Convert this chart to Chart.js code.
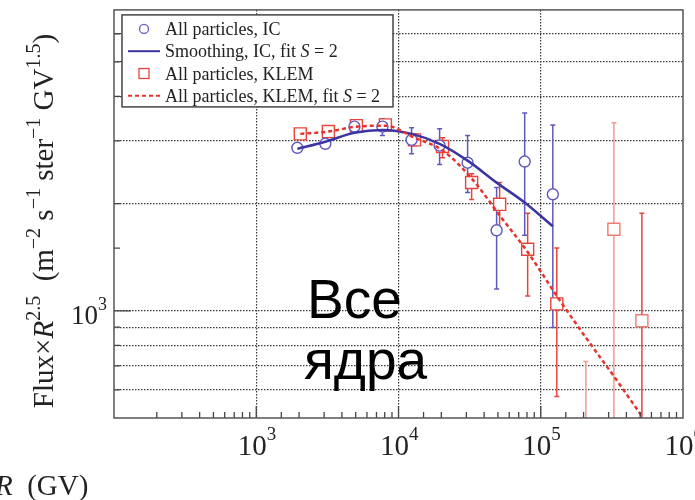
<!DOCTYPE html>
<html>
<head>
<meta charset="utf-8">
<script src="https://cdn.jsdelivr.net/npm/chart.js@4.4.1/dist/chart.umd.min.js"></script>
<style>
  html, body { margin: 0; padding: 0; background: #fff; }
</style>
</head>
<body>
<canvas id="c" width="695" height="500"></canvas>
<script>
// Rigidity R (GV) and Flux x R^2.5
const icRigidity = [1945, 3060, 4900, 7710, 12360, 19450, 30600, 48950, 77100, 121600];
const icFlux = [2870, 2945, 3290, 3290, 3020, 2910, 2606, 1683, 2625, 2124];
const icErrLow = [null, null, null, 3105, 2762, 2576, 2148, 1152, 1630, 897];
const icErrHigh = [null, null, null, 3460, 3265, 3245, 3105, 2219, 3594, 3327];
const icSmoothFlux = [2850, 2985, 3162, 3220, 3140, 2945, 2641, 2291, 2014, 1726];

const klemRigidity = [2040, 3213, 5060, 8090, 12970, 20400, 32660, 51400, 80900, 129700, 207500, 326600, 514000];
const klemFlux = [3140, 3187, 3311, 3327, 3020, 2893, 2292, 1991, 1489, 1046, 420, 1694, 938];
const klemErrLow = [null, null, null, null, 2910, 2690, 2055, 1706, 1101, 575, 250, 200, 200];
const klemErrHigh = [null, null, null, null, 3140, 3063, 2427, 2292, 1878, 1500, 721, 3375, 1878];
const klemFitFlux = [3140, 3187, 3290, 3311, 3063, 2820, 2355, 1854, 1462, 1101, 841, 655, 506];

// tick labels: base and exponent
const xMajorTicks = [1e3, 1e4, 1e5, 1e6];
const xMajorExp = ['3', '4', '5', '6'];
const yMajorTicks = [1000];
const yMajorExp = ['3'];
const xGridValues = [1e3, 1e4, 1e5];
const yGridValues = [600, 700, 800, 900, 1000, 2000, 3000, 4000, 5000, 6000];

const SERIF = '"Liberation Serif", "Times New Roman", "DejaVu Serif", serif';
const IC_COLOR = '#5f58bd';
const IC_LINE = '#3b35a3';
const KLEM_COLOR = '#e8453a';
const KLEM_FAINT = '#f39a92';
const GRID_COLOR = '#3a3a3a';

const pairs = (xs, ys) => xs.map((x, i) => ({ x: x, y: ys[i] }));

// draw a run of text pieces [text, font, dy] starting at x
function drawRich(ctx, parts, x, y) {
  let cx = x;
  for (const [t, f, dy] of parts) {
    ctx.font = f;
    ctx.fillText(t, cx, y + (dy || 0));
    cx += ctx.measureText(t).width;
  }
  return cx - x;
}

function measureRich(ctx, parts) {
  let w = 0;
  for (const [t, f] of parts) {
    ctx.font = f;
    w += ctx.measureText(t).width;
  }
  return w;
}

// Error bars, drawn under the markers
const errorBars = {
  id: 'errorBars',
  beforeDatasetsDraw(chart) {
    const { ctx, chartArea, scales } = chart;
    ctx.save();
    ctx.beginPath();
    ctx.rect(chartArea.left, chartArea.top, chartArea.right - chartArea.left, chartArea.bottom - chartArea.top);
    ctx.clip();
    chart.data.datasets.forEach(ds => {
      if (!ds.errLow) return;
      ds.data.forEach((p, i) => {
        const lo = ds.errLow[i], hi = ds.errHigh[i];
        if (lo == null || hi == null) return;
        const px = scales.x.getPixelForValue(p.x);
        const y1 = scales.y.getPixelForValue(lo);
        const y2 = scales.y.getPixelForValue(hi);
        ctx.strokeStyle = typeof ds.barColor === 'function' ? ds.barColor(i) : ds.barColor;
        ctx.lineWidth = 1.5;
        ctx.beginPath();
        ctx.moveTo(px, y1); ctx.lineTo(px, y2);
        ctx.moveTo(px - 2.5, y1); ctx.lineTo(px + 2.5, y1);
        ctx.moveTo(px - 2.5, y2); ctx.lineTo(px + 2.5, y2);
        ctx.stroke();
      });
    });
    ctx.restore();
  }
};

// Frame, inward tick marks, tick labels, legend, axis titles and the overlay caption
const decorations = {
  id: 'decorations',
  afterDraw(chart) {
    const { ctx, chartArea: a, scales } = chart;
    ctx.save();

    // inward ticks
    ctx.strokeStyle = '#444';
    ctx.lineWidth = 1.3;
    ctx.beginPath();
    scales.x.ticks.forEach(t => {
      const px = scales.x.getPixelForValue(t.value);
      if (px <= a.left + 1 || px >= a.right - 1) return;
      const len = xMajorTicks.includes(t.value) ? 12 : 6;
      ctx.moveTo(px, a.bottom); ctx.lineTo(px, a.bottom - len);
    });
    scales.y.ticks.forEach(t => {
      const py = scales.y.getPixelForValue(t.value);
      if (py <= a.top + 1 || py >= a.bottom - 1) return;
      const len = yMajorTicks.includes(t.value) ? 17 : 6;
      ctx.moveTo(a.left, py); ctx.lineTo(a.left + len, py);
    });
    ctx.stroke();

    // frame
    ctx.strokeStyle = '#555';
    ctx.lineWidth = 1.5;
    ctx.strokeRect(a.left, a.top, a.right - a.left, a.bottom - a.top);

    // tick labels as 10 with a raised exponent
    ctx.fillStyle = '#222';
    ctx.textBaseline = 'alphabetic';
    const tBase = `29px ${SERIF}`, tSup = `19px ${SERIF}`;
    xMajorTicks.forEach((v, i) => {
      const px = scales.x.getPixelForValue(v);
      ctx.font = tBase;
      const w10 = ctx.measureText('10').width;
      drawRich(ctx, [['10', tBase], [xMajorExp[i], tSup, -15]], px - w10 / 2 - 4, 455);
    });
    const yBase = `27px ${SERIF}`, ySup = `18px ${SERIF}`;
    yMajorTicks.forEach((v, i) => {
      const py = scales.y.getPixelForValue(v);
      const parts = [['10', yBase], [yMajorExp[i], ySup, -14]];
      const w = measureRich(ctx, parts);
      drawRich(ctx, parts, a.left - 7 - w, py + 13);
    });

    // legend
    const lx = a.left + 8, ly = a.top + 5, lw = 271, lh = 92;
    ctx.fillStyle = '#fff';
    ctx.fillRect(lx, ly, lw, lh);
    ctx.strokeStyle = '#444';
    ctx.lineWidth = 1.5;
    ctx.strokeRect(lx, ly, lw, lh);
    const font = `18px ${SERIF}`;
    const ifont = `italic 18px ${SERIF}`;
    chart.data.datasets.forEach((ds, i) => {
      const cy = ly + 14 + i * 22.3;
      const sx = lx + 22;
      ctx.save();
      if (ds.legendKind === 'circle') {
        ctx.strokeStyle = ds.pointBorderColor; ctx.lineWidth = 1.3;
        ctx.beginPath(); ctx.arc(sx, cy, 4.5, 0, Math.PI * 2); ctx.stroke();
      } else if (ds.legendKind === 'square') {
        ctx.strokeStyle = KLEM_COLOR; ctx.lineWidth = 1.3;
        ctx.strokeRect(sx - 5, cy - 5, 10, 10);
      } else {
        ctx.strokeStyle = ds.borderColor; ctx.lineWidth = 2;
        ctx.setLineDash(ds.borderDash || []);
        ctx.beginPath(); ctx.moveTo(lx + 6, cy); ctx.lineTo(lx + 38, cy); ctx.stroke();
      }
      ctx.restore();
      ctx.fillStyle = '#222';
      ctx.textBaseline = 'alphabetic';
      const k = ds.label.indexOf(' S = ');
      const parts = k < 0 ? [[ds.label, font]]
        : [[ds.label.slice(0, k + 1), font], ['S', ifont], [ds.label.slice(k + 2), font]];
      drawRich(ctx, parts, lx + 43, cy + 6);
    });

    // y title (rotated)
    const main = `29px ${SERIF}`, ital = `italic 29px ${SERIF}`, sup = `20px ${SERIF}`;
    const yParts = [
      ['Flux×', main], ['R', ital], ['2.5', sup, -13], ['  (m', main], ['−2', sup, -13],
      [' s', main], ['−1', sup, -13], [' ster', main], ['−1', sup, -13],
      [' GV', main], ['1.5', sup, -13], [')', main]
    ];
    const tw = measureRich(ctx, yParts);
    ctx.save();
    ctx.translate(53, 221 + tw / 2);
    ctx.rotate(-Math.PI / 2);
    ctx.fillStyle = '#222';
    drawRich(ctx, yParts, 0, 0);
    ctx.restore();

    // x title
    ctx.fillStyle = '#222';
    drawRich(ctx, [['R', ital], ['  (GV)', main]], -5, 495);

    // caption overlay
    ctx.fillStyle = '#000';
    ctx.font = '55px "Liberation Sans", Arial, sans-serif';
    ctx.fillText('Все', 307, 318);
    ctx.fillText('ядра', 304, 379);

    ctx.restore();
  }
};

new Chart(document.getElementById('c'), {
  type: 'line',
  data: {
    datasets: [
      {
        label: 'All particles, IC',
        legendKind: 'circle',
        data: pairs(icRigidity, icFlux),
        errLow: icErrLow, errHigh: icErrHigh, barColor: IC_COLOR,
        showLine: false,
        pointStyle: 'circle', pointRadius: 5.5, pointBorderWidth: 1.4,
        pointBorderColor: IC_COLOR, pointBackgroundColor: '#fff',
        order: 2
      },
      {
        label: 'Smoothing, IC, fit S = 2',
        legendKind: 'line',
        data: pairs(icRigidity, icSmoothFlux),
        borderColor: IC_LINE, borderWidth: 2.5,
        pointRadius: 0, cubicInterpolationMode: 'monotone',
        order: 1
      },
      {
        label: 'All particles, KLEM',
        legendKind: 'square',
        data: pairs(klemRigidity, klemFlux),
        errLow: klemErrLow, errHigh: klemErrHigh,
        barColor: i => (i === 10 || i === 11) ? KLEM_FAINT : KLEM_COLOR,
        showLine: false,
        pointStyle: 'rect', pointRadius: 8.5, pointBorderWidth: 1.4,
        pointBorderColor: ctx => (ctx.dataIndex === 11 || ctx.dataIndex === 12) ? '#ef7b72' : KLEM_COLOR,
        pointBackgroundColor: '#fff',
        order: 2
      },
      {
        label: 'All particles, KLEM, fit S = 2',
        legendKind: 'line',
        data: pairs(klemRigidity, klemFitFlux),
        borderColor: '#e6322a', borderWidth: 2.5, borderDash: [4, 3],
        pointRadius: 0, cubicInterpolationMode: 'monotone',
        order: 0
      }
    ]
  },
  options: {
    responsive: false,
    devicePixelRatio: 1,
    animation: false,
    layout: { padding: { top: 8, right: 12, left: 0, bottom: 0 } },
    plugins: { legend: { display: false }, tooltip: { enabled: false } },
    scales: {
      x: {
        type: 'logarithmic',
        min: 100,
        max: 1e6,
        afterFit: s => { s.height = 82; s.paddingLeft = 0; s.paddingRight = 0; },
        grid: {
          color: c => xGridValues.includes(c.tick && c.tick.value) ? GRID_COLOR : 'rgba(0,0,0,0)',
          lineWidth: 1.2,
          drawTicks: false
        },
        border: { display: false, dash: [1.5, 1.5] },
        ticks: { autoSkip: false, maxRotation: 0, callback: () => '' }
      },
      y: {
        type: 'logarithmic',
        min: 500,
        max: 7000,
        afterFit: s => { s.width = 114; s.paddingTop = 0; s.paddingBottom = 0; },
        grid: {
          color: c => yGridValues.includes(c.tick && c.tick.value) ? GRID_COLOR : 'rgba(0,0,0,0)',
          lineWidth: 1.2,
          drawTicks: false
        },
        border: { display: false, dash: [1.5, 1.5] },
        ticks: { autoSkip: false, callback: () => '' }
      }
    }
  },
  plugins: [errorBars, decorations]
});
</script>
</body>
</html>
